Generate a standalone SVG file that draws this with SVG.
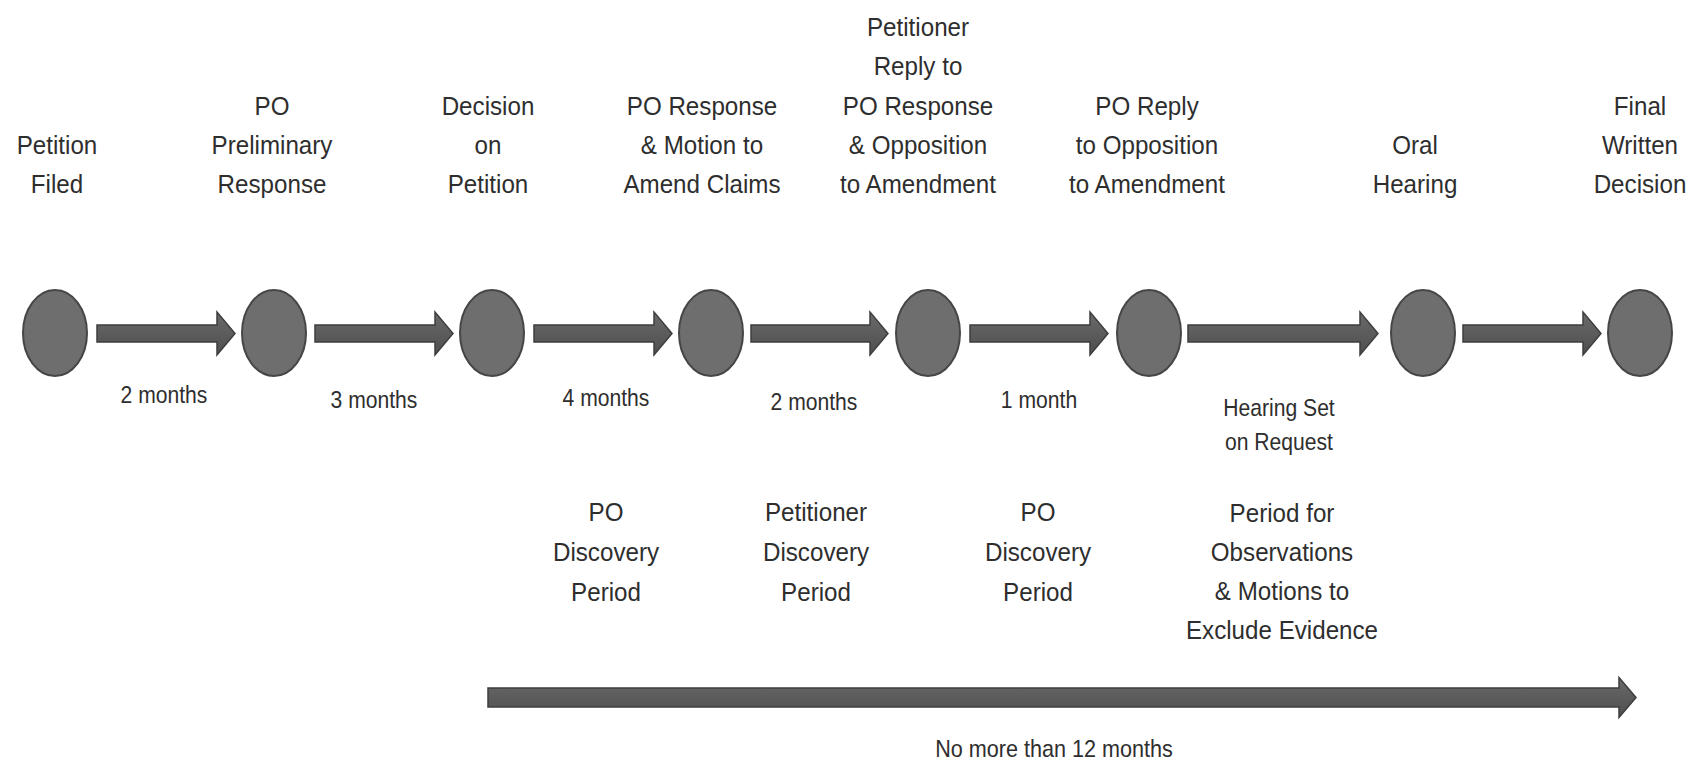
<svg xmlns="http://www.w3.org/2000/svg" width="1704" height="766" viewBox="0 0 1704 766">
<defs>
<style>
.lbl { font-family: "Liberation Sans", Arial, sans-serif; font-size: 26px; fill: #2e2e2e; text-anchor: middle; }
.sm { font-size: 24px; }
.node { fill: #6e6e6e; stroke: #464646; stroke-width: 2; }
.arr { fill: url(#ag); stroke: #3e3e3e; stroke-width: 1.5; stroke-linejoin: miter; }
</style>
<linearGradient id="ag" x1="0" y1="0" x2="0" y2="1">
<stop offset="0" stop-color="#6a6a6a"/>
<stop offset="0.5" stop-color="#5c5c5c"/>
<stop offset="1" stop-color="#4e4e4e"/>
</linearGradient>
</defs>
<rect width="1704" height="766" fill="#ffffff"/>

<g id="node-petition-filed">
<ellipse class="node" cx="55" cy="333" rx="32" ry="43"/>
<text class="lbl" transform="translate(57 0) scale(0.93 1)"><tspan x="0" y="154">Petition</tspan><tspan x="0" y="193">Filed</tspan></text>
</g>
<g id="node-po-preliminary-response">
<ellipse class="node" cx="274" cy="333" rx="32" ry="43"/>
<text class="lbl" transform="translate(272 0) scale(0.93 1)"><tspan x="0" y="115">PO</tspan><tspan x="0" y="154">Preliminary</tspan><tspan x="0" y="193">Response</tspan></text>
</g>
<g id="node-decision-on-petition">
<ellipse class="node" cx="492" cy="333" rx="32" ry="43"/>
<text class="lbl" transform="translate(488 0) scale(0.93 1)"><tspan x="0" y="115">Decision</tspan><tspan x="0" y="154">on</tspan><tspan x="0" y="193">Petition</tspan></text>
</g>
<g id="node-po-response">
<ellipse class="node" cx="711" cy="333" rx="32" ry="43"/>
<text class="lbl" transform="translate(702 0) scale(0.93 1)"><tspan x="0" y="115">PO Response</tspan><tspan x="0" y="154">&amp; Motion to</tspan><tspan x="0" y="193">Amend Claims</tspan></text>
</g>
<g id="node-petitioner-reply">
<ellipse class="node" cx="928" cy="333" rx="32" ry="43"/>
<text class="lbl" transform="translate(918 0) scale(0.93 1)"><tspan x="0" y="36">Petitioner</tspan><tspan x="0" y="75">Reply to</tspan><tspan x="0" y="115">PO Response</tspan><tspan x="0" y="154">&amp; Opposition</tspan><tspan x="0" y="193">to Amendment</tspan></text>
</g>
<g id="node-po-reply">
<ellipse class="node" cx="1149" cy="333" rx="32" ry="43"/>
<text class="lbl" transform="translate(1147 0) scale(0.93 1)"><tspan x="0" y="115">PO Reply</tspan><tspan x="0" y="154">to Opposition</tspan><tspan x="0" y="193">to Amendment</tspan></text>
</g>
<g id="node-oral-hearing">
<ellipse class="node" cx="1423" cy="333" rx="32" ry="43"/>
<text class="lbl" transform="translate(1415 0) scale(0.93 1)"><tspan x="0" y="154">Oral</tspan><tspan x="0" y="193">Hearing</tspan></text>
</g>
<g id="node-final-written-decision">
<ellipse class="node" cx="1640" cy="333" rx="32" ry="43"/>
<text class="lbl" transform="translate(1640 0) scale(0.93 1)"><tspan x="0" y="115">Final</tspan><tspan x="0" y="154">Written</tspan><tspan x="0" y="193">Decision</tspan></text>
</g>

<g id="connectors">
<path class="arr" d="M97,325 H217 V312 L235,333.5 L217,355 V342 H97 Z"/>
<path class="arr" d="M315,325 H435 V312 L453,333.5 L435,355 V342 H315 Z"/>
<path class="arr" d="M534,325 H654 V312 L672,333.5 L654,355 V342 H534 Z"/>
<path class="arr" d="M751,325 H870 V312 L888,333.5 L870,355 V342 H751 Z"/>
<path class="arr" d="M970,325 H1090 V312 L1108,333.5 L1090,355 V342 H970 Z"/>
<path class="arr" d="M1188,325 H1360 V312 L1378,333.5 L1360,355 V342 H1188 Z"/>
<path class="arr" d="M1463,325 H1583 V312 L1601,333.5 L1583,355 V342 H1463 Z"/>
<text class="lbl sm" transform="translate(164 0) scale(0.88 1)"><tspan x="0" y="403">2 months</tspan></text>
<text class="lbl sm" transform="translate(374 0) scale(0.88 1)"><tspan x="0" y="408">3 months</tspan></text>
<text class="lbl sm" transform="translate(606 0) scale(0.88 1)"><tspan x="0" y="406">4 months</tspan></text>
<text class="lbl sm" transform="translate(814 0) scale(0.88 1)"><tspan x="0" y="410">2 months</tspan></text>
<text class="lbl sm" transform="translate(1039 0) scale(0.88 1)"><tspan x="0" y="408">1 month</tspan></text>
<text class="lbl sm" transform="translate(1279 0) scale(0.88 1)"><tspan x="0" y="416">Hearing Set</tspan><tspan x="0" y="450">on Request</tspan></text>
</g>

<g id="periods">
<text class="lbl" transform="translate(606 0) scale(0.93 1)"><tspan x="0" y="521">PO</tspan><tspan x="0" y="561">Discovery</tspan><tspan x="0" y="601">Period</tspan></text>
<text class="lbl" transform="translate(816 0) scale(0.93 1)"><tspan x="0" y="521">Petitioner</tspan><tspan x="0" y="561">Discovery</tspan><tspan x="0" y="601">Period</tspan></text>
<text class="lbl" transform="translate(1038 0) scale(0.93 1)"><tspan x="0" y="521">PO</tspan><tspan x="0" y="561">Discovery</tspan><tspan x="0" y="601">Period</tspan></text>
<text class="lbl" transform="translate(1282 0) scale(0.93 1)"><tspan x="0" y="522">Period for</tspan><tspan x="0" y="561">Observations</tspan><tspan x="0" y="600">&amp; Motions to</tspan><tspan x="0" y="639">Exclude Evidence</tspan></text>
</g>

<g id="overall-span">
<path class="arr" d="M488,688 H1619 V677.5 L1636,697.5 L1619,717.5 V707 H488 Z"/>
<text class="lbl sm" transform="translate(1054 0) scale(0.9 1)"><tspan x="0" y="757">No more than 12 months</tspan></text>
</g>
</svg>
